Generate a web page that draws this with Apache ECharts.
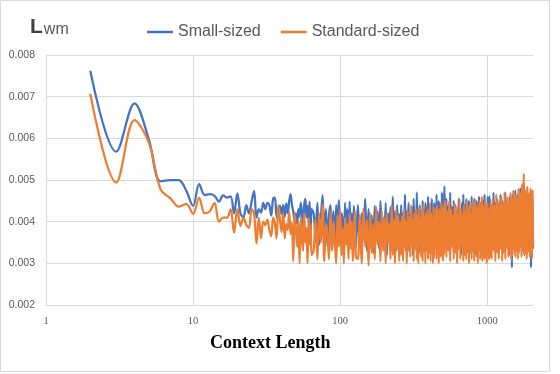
<!DOCTYPE html>
<html>
<head>
<meta charset="utf-8">
<script src="https://cdn.jsdelivr.net/npm/echarts@6/dist/echarts.min.js"></script>
<style>
  html, body { margin: 0; padding: 0; background: #fff; }
  #chart { width: 560px; height: 374px; }
</style>
</head>
<body>
<div id="chart"></div>
<script>
// x values (context length), the dense part is sampled
var contextLength = [
  2,3,4,5,6,7,8,9,10,
  11,12,13,14,15,16,17,18,19,20,
  21,22,23,24,25,26,27,28,29,30,
  31,32,33,34,35,36,37,38,39,40,
  41,42,43,44,45,46,47,48,49,50,
  51,52,53,54,55,56,57,58,59,60,
  61,62,63,64,
  66,68,70,72,74,76,78,80,82,84,86,88,90,92,94,96,98,100,102,104,106,108,110,112,114,116,118,120,122,124,126,128,
  132,136,140,144,148,152,156,160,164,168,172,176,180,184,188,192,196,200,204,208,212,216,220,224,228,232,236,240,244,248,252,256,
  260,264,268,272,276,280,284,288,292,296,300,304,308,312,316,320,
  324,328,332,336,340,344,348,352,356,360,364,368,372,376,380,384,
  388,392,396,400,404,408,412,416,420,424,428,432,436,440,444,448,
  452,456,460,464,468,472,476,480,484,488,492,496,500,504,508,512,
  520,528,536,544,552,560,568,576,584,592,600,608,616,624,632,640,
  648,656,664,672,680,688,696,704,712,720,728,736,744,752,760,768,
  776,784,792,800,808,816,824,832,840,848,856,864,872,880,888,896,
  904,912,920,928,936,944,952,960,968,976,984,992,1000,1008,1016,1024,
  1040,1056,1072,1088,1104,1120,1136,1152,1168,1184,1200,1216,1232,1248,1264,1280,
  1296,1312,1328,1344,1360,1376,1392,1408,1424,1440,1456,1472,1488,1504,1520,1536,
  1552,1568,1584,1600,1616,1632,1648,1664,1680,1696,1712,1728,1744,1760,1776,1792,
  1808,1824,1840,1856,1872,1888,1904,1920,1936,1952,1968,1984,2000,2016,2032,2048
];

var smallSized = [
  .00762,.00568,.00684,.00598,.00497,.00500,.00500,.00474,.00438,
  .00490,.00464,.00466,.00462,.00448,.00463,.00458,.00461,.00420,.00468,
  .00420,.00410,.00440,.00420,.00448,.00474,.00410,.00430,.00422,.00445,
  .00430,.00445,.00440,.00415,.00455,.00458,.00410,.00432,.00438,.00418,
  .00440,.00412,.00444,.00420,.00448,.00466,.00440,.00425,.00405,.00420,
  .00395,.00430,.00412,.00445,.00420,.00388,.00440,.00455,.00410,.00438,
  .00400,.00448,.00372,.00430,
  .00420,.00365,.00445,.00345,.00410,.00464,.00355,.00430,.00340,.00415,.00440,.00350,.00425,.00335,.00440,.00380,
  .00452,.00345,.00420,.00400,.00340,.00445,.00370,.00430,.00335,.00448,.00360,.00420,.00345,.00438,.00395,.00340,
  .00440,.00340,.00420,.00360,.00455,.00330,.00430,.00350,.00415,.00325,.00438,.00370,.00425,.00335,.00450,.00355,
  .00410,.00340,.00445,.00320,.00420,.00380,.00435,.00335,.00460,.00345,.00425,.00330,.00440,.00365,.00418,.00340,
  .00440,.00345,.00420,.00360,.00465,.00330,.00425,.00375,.00445,.00335,.00415,.00350,.00435,.00320,.00455,.00365,
  .00420,.00340,.00470,.00355,.00430,.00325,.00440,.00370,.00415,.00345,.00450,.00335,.00425,.00360,.00445,.00330,
  .00435,.00350,.00460,.00340,.00420,.00375,.00440,.00325,.00455,.00345,.00430,.00310,.00445,.00365,.00425,.00340,
  .00465,.00350,.00435,.00330,.00450,.00360,.00420,.00340,.00445,.00355,.00470,.00335,.00430,.00350,.00440,.00485,
  .00350,.00455,.00335,.00440,.00365,.00470,.00340,.00435,.00355,.00450,.00330,.00440,.00370,.00425,.00340,.00455,
  .00345,.00430,.00320,.00445,.00360,.00465,.00335,.00440,.00350,.00455,.00325,.00435,.00365,.00450,.00340,.00430,
  .00355,.00460,.00330,.00440,.00345,.00455,.00320,.00435,.00360,.00450,.00340,.00430,.00370,.00460,.00335,.00445,
  .00350,.00440,.00315,.00455,.00345,.00435,.00360,.00465,.00330,.00445,.00355,.00440,.00340,.00460,.00350,.00450,
  .00460,.00345,.00440,.00335,.00470,.00350,.00445,.00330,.00455,.00360,.00440,.00340,.00465,.00335,.00450,.00355,
  .00440,.00330,.00470,.00345,.00450,.00335,.00445,.00320,.00460,.00340,.00455,.00290,.00465,.00350,.00445,.00330,
  .00475,.00345,.00450,.00325,.00465,.00355,.00440,.00335,.00480,.00345,.00455,.00330,.00470,.00350,.00450,.00320,
  .00475,.00340,.00460,.00335,.00470,.00345,.00455,.00330,.00465,.00350,.00460,.00290,.00470,.00340,.00455,.00335
];

var standardSized = [
  .00707,.00494,.00644,.00590,.00478,.00456,.00436,.00443,.00419,
  .00457,.00420,.00425,.00445,.00400,.00410,.00410,.00430,.00373,.00430,
  .00390,.00410,.00392,.00385,.00430,.00420,.00348,.00410,.00360,.00400,
  .00392,.00405,.00380,.00365,.00410,.00395,.00360,.00440,.00405,.00375,
  .00420,.00360,.00395,.00380,.00425,.00370,.00398,.00305,.00420,.00385,
  .00340,.00400,.00300,.00410,.00360,.00330,.00420,.00350,.00385,.00300,
  .00410,.00345,.00395,.00320,
  .00330,.00405,.00310,.00420,.00350,.00440,.00305,.00395,.00370,.00310,.00425,.00330,.00400,.00350,.00300,.00415,
  .00340,.00430,.00320,.00385,.00300,.00410,.00345,.00395,.00310,.00420,.00335,.00400,.00305,.00380,.00425,.00315,
  .00310,.00415,.00300,.00430,.00340,.00405,.00295,.00420,.00325,.00395,.00310,.00435,.00345,.00400,.00305,.00425,
  .00330,.00410,.00300,.00420,.00350,.00395,.00310,.00440,.00320,.00405,.00300,.00430,.00335,.00415,.00305,.00400,
  .00320,.00415,.00305,.00430,.00340,.00400,.00300,.00425,.00330,.00410,.00315,.00440,.00345,.00405,.00305,.00420,
  .00335,.00430,.00310,.00415,.00300,.00435,.00350,.00405,.00315,.00425,.00305,.00440,.00330,.00410,.00300,.00420,
  .00345,.00430,.00310,.00415,.00325,.00445,.00305,.00420,.00335,.00405,.00300,.00435,.00320,.00415,.00340,.00430,
  .00310,.00440,.00325,.00420,.00300,.00430,.00345,.00410,.00315,.00445,.00330,.00420,.00305,.00435,.00320,.00450,
  .00440,.00315,.00425,.00330,.00450,.00305,.00430,.00340,.00415,.00310,.00445,.00325,.00435,.00300,.00420,.00335,
  .00455,.00310,.00430,.00345,.00420,.00305,.00440,.00320,.00425,.00310,.00450,.00335,.00430,.00300,.00440,.00325,
  .00420,.00310,.00445,.00330,.00435,.00305,.00455,.00340,.00425,.00315,.00440,.00300,.00430,.00335,.00450,.00310,
  .00435,.00325,.00460,.00305,.00440,.00320,.00430,.00310,.00450,.00340,.00425,.00300,.00445,.00320,.00435,.00310,
  .00320,.00445,.00310,.00455,.00330,.00440,.00305,.00465,.00325,.00450,.00310,.00440,.00335,.00460,.00305,.00445,
  .00325,.00470,.00310,.00450,.00340,.00460,.00315,.00445,.00330,.00470,.00310,.00455,.00320,.00475,.00335,.00450,
  .00315,.00465,.00330,.00455,.00310,.00480,.00325,.00460,.00340,.00470,.00315,.00490,.00330,.00465,.00515,.00320,
  .00475,.00335,.00460,.00310,.00485,.00325,.00470,.00340,.00455,.00315,.00480,.00330,.00465,.00310,.00475,.00340
];

var decadeLines = [10, 100, 1000];

var grey = '#595959';
var gridGrey = '#D9D9D9';

function pairs(values) {
  return contextLength.map(function (x, i) { return [x, values[i]]; });
}

var chart = echarts.init(document.getElementById('chart'), null, { renderer: 'canvas' });

// Set chart options
var option = {
  animation: false,
  backgroundColor: '#ffffff',
  title: {
    text: '{a|L}{b|wm}',
    left: 30,
    top: 17,
    padding: 0,
    textStyle: {
      rich: {
        a: { fontFamily: 'Liberation Sans Narrow, Liberation Sans', fontWeight: 'bold', fontSize: 21, color: '#404040' },
        b: { fontFamily: 'Liberation Sans', fontWeight: 'normal', fontSize: 16, color: grey, padding: [5, 0, 0, 1] }
      }
    }
  },
  legend: {
    left: 147,
    top: 22,
    padding: 0,
    icon: 'rect',
    itemWidth: 26,
    itemHeight: 2.5,
    itemGap: 20,
    textStyle: { fontFamily: 'Liberation Sans', fontSize: 16, color: grey, lineHeight: 20 },
    data: ['Small-sized', 'Standard-sized']
  },
  grid: {
    left: 46,
    right: 27,
    top: 55,
    bottom: 69
  },
  xAxis: {
    type: 'log',
    logBase: 10,
    min: 1,
    max: 2048,
    axisLine: { show: true, lineStyle: { color: gridGrey } },
    axisTick: { show: false },
    splitLine: { show: false },
    axisLabel: {
      margin: 11,
      fontFamily: 'Liberation Serif',
      fontSize: 10.5,
      color: grey,
      formatter: function (v) {
        var p = Math.log10(v);
        return Math.abs(p - Math.round(p)) < 1e-6 ? String(Math.round(v)) : '';
      }
    }
  },
  yAxis: {
    type: 'value',
    min: 0.002,
    max: 0.008,
    interval: 0.001,
    axisLine: { show: true, lineStyle: { color: gridGrey } },
    axisTick: { show: false },
    splitLine: { lineStyle: { color: gridGrey } },
    axisLabel: {
      margin: 11,
      fontFamily: 'Liberation Sans',
      fontSize: 10.5,
      color: grey,
      formatter: function (v) { return v.toFixed(3); }
    }
  },
  graphic: [
    {
      type: 'rect',
      shape: { x: 0.5, y: 0.5, width: 549, height: 371 },
      style: { fill: 'none', stroke: gridGrey, lineWidth: 1 },
      silent: true
    },
    {
      type: 'text',
      left: 210,
      top: 334,
      style: {
        text: 'Context Length',
        font: 'bold 18px "Liberation Serif"',
        fill: '#000000'
      }
    }
  ],
  series: [
    {
      name: 'Small-sized',
      type: 'line',
      data: pairs(smallSized),
      showSymbol: false,
      symbol: 'none',
      smooth: 0.35,
      color: '#4472C4',
      lineStyle: { width: 2.25, color: '#4472C4' },
      markLine: {
        silent: true,
        z: 1,
        symbol: 'none',
        label: { show: false },
        lineStyle: { color: gridGrey, type: 'solid', width: 1 },
        data: decadeLines.map(function (d) { return { xAxis: d }; })
      }
    },
    {
      name: 'Standard-sized',
      type: 'line',
      data: pairs(standardSized),
      showSymbol: false,
      symbol: 'none',
      smooth: 0.35,
      color: '#ED7D31',
      lineStyle: { width: 2.25, color: '#ED7D31' }
    }
  ]
};

chart.setOption(option);
</script>
</body>
</html>
